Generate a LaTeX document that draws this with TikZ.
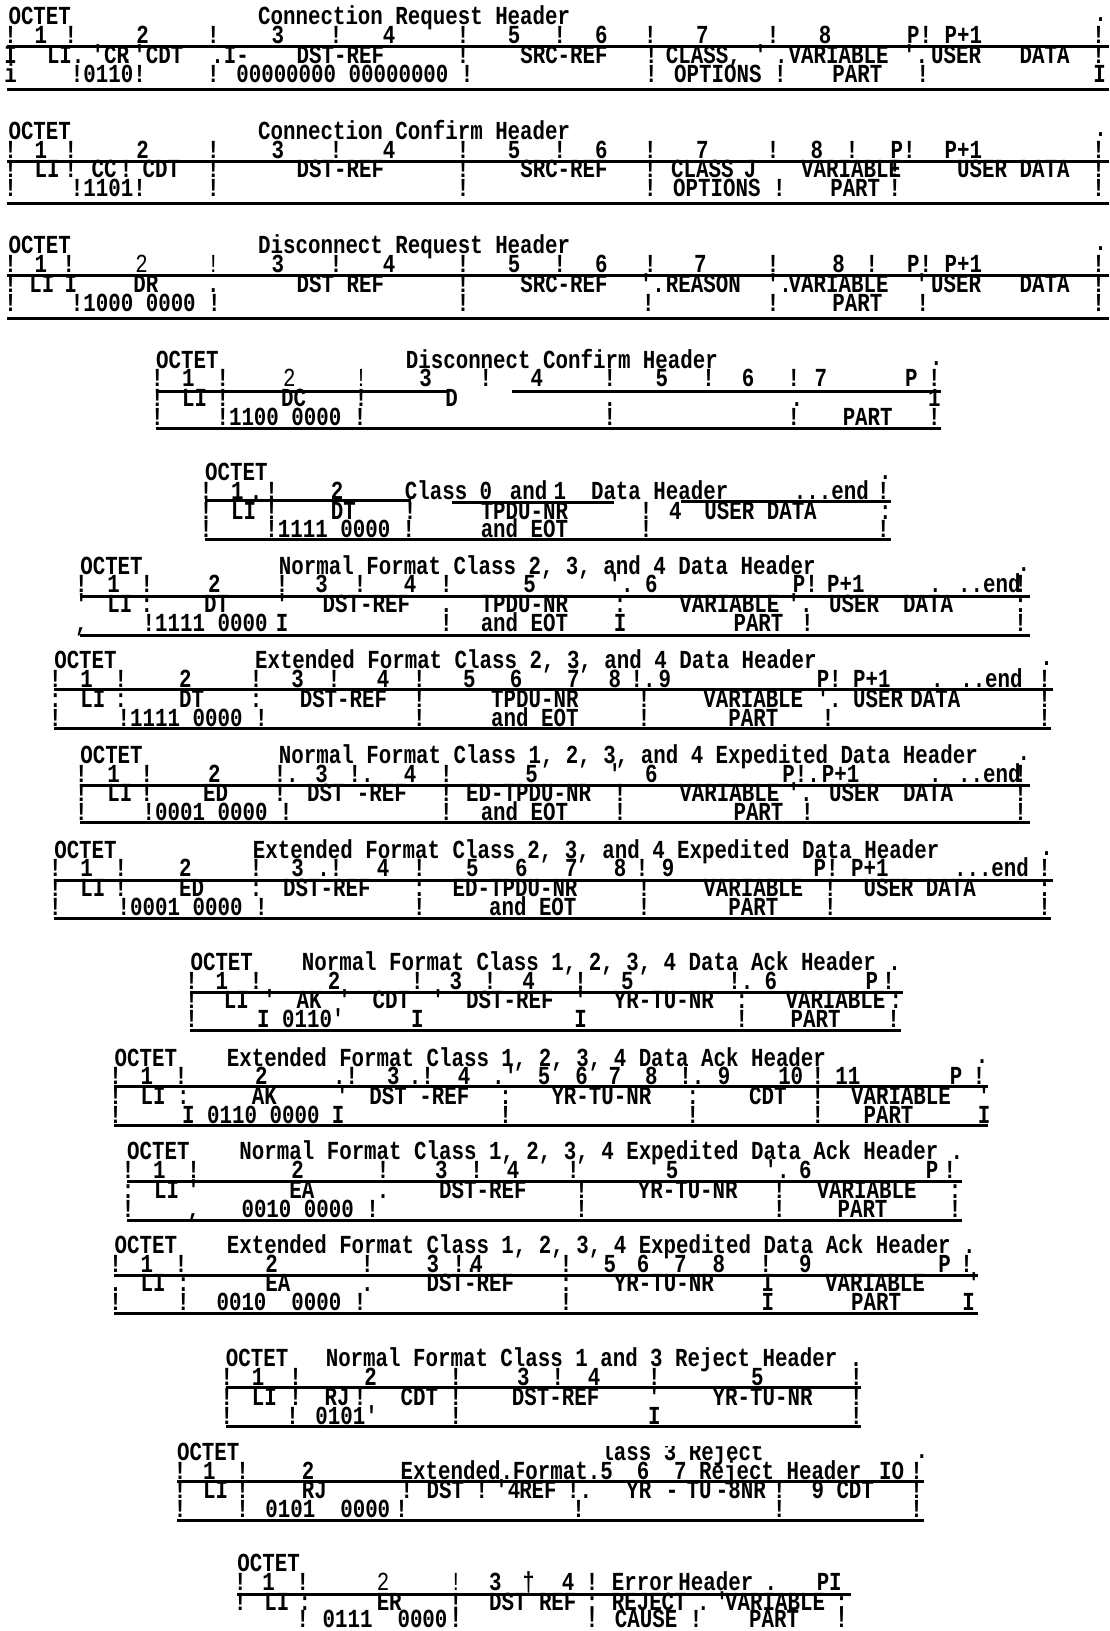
\documentclass[tikz,border=0pt]{standalone}
\usepackage{fontspec}
\newfontfamily\tw{Liberation Mono}[FakeStretch=0.80]
\newcounter{tn}
\newcommand\lt[1]{{\mdseries #1}}
\tikzset{
  txt/.style={anchor=base west, inner sep=0pt, font=\tw\bfseries\fontsize{26}{28}\selectfont},
  rule/.style={line width=3pt, line cap=butt}
}
\newcommand\Row[2]{\foreach \px/\lbl in {#2}{\stepcounter{tn}\node[txt] (n\arabic{tn}) at (\px,#1) {\lbl};}}
\newcommand\HR[3]{\draw[rule] (#1,#3) -- (#2,#3);}
\begin{document}
\begin{tikzpicture}[x=1.0403pt,y=-1.0403pt]
\useasboundingbox[fill=white] (0,0) rectangle (1067,1568);
% ---------- Block 1
\def\T{17}
\Row{\T+7}{8/OCTET, 248/{Connection Request Header}}
\Row{\T+4}{1052/.}
\Row{\T+25}{4/!, 33/1, 62/!, 131/2, 199/!, 261/3, 317/!, 368/4, 439/!, 488/5, 532/!, 572/6, 619/!, 669/7, 737/!, 787/8, 872/P!, 908/P+1, 1050/!}
\Row{\T+44}{4/I, 45/LI., 88/'CR, 116/.'CDT, 203/.I-, 285/DST-REF, 439/!, 500/SRC-REF, 620/!, 640/{CLASS,}, 725/', 745/., 758/VARIABLE, 868/'., 895/USER, 980/DATA, 1050/!}
\Row{\T+62}{4/i, 68/!0110!, 199/{! 00000000 00000000 !}, 620/{! OPTIONS !}, 800/PART, 881/!, 1051/I}
\HR{7}{1066}{\T+28}\HR{7}{1066}{\T+69}
% ---------- Block 2
\def\T{127}
\Row{\T+7}{8/OCTET, 248/{Connection Confirm Header}}
\Row{\T+4}{1052/.}
\Row{\T+25}{4/!, 33/1, 62/!, 131/2, 199/!, 261/3, 317/!, 368/4, 439/!, 488/5, 532/!, 572/6, 619/!, 669/7, 737/!, 779/8, 813/!, 856/P!, 908/P+1, 1050/!}
\Row{\T+44}{4/!, 33/LI, 62/!, 88/CC, 115/!, 137/CDT, 199/!, 285/DST-REF, 439/!, 500/SRC-REF, 619/!, 645/CLASS, 715/J, 770/VARIABLE, 854/!, 920/{USER DATA}, 1050/!}
\Row{\T+62}{4/!, 68/!1101!, 199/!, 439/!, 619/{! OPTIONS !}, 798/PART, 854/!, 1050/!}
\HR{7}{1066}{\T+28}\HR{7}{1066}{\T+69}
% ---------- Block 3
\def\T{237}
\Row{\T+7}{8/OCTET, 248/{Disconnect Request Header}}
\Row{\T+4}{1052/.}
\Row{\T+25}{4/!, 33/1, 60/!, 130/\lt{2}, 199/\lt{!}, 261/3, 317/!, 368/4, 439/!, 488/5, 532/!, 572/6, 619/!, 667/7, 737/!, 800/8, 832/!, 872/P!, 908/P+1, 1050/!}
\Row{\T+44}{4/!, 28/LI, 62/I, 128/DR, 199/., 285/{DST REF}, 439/!, 500/SRC-REF, 615/'., 640/REASON, 737/'., 758/VARIABLE, 880/'., 895/USER, 980/DATA, 1050/!}
\Row{\T+62}{4/!, 68/{!1000 0000 !}, 439/!, 617/!, 737/!, 800/PART, 881/!, 1050/!}
\HR{7}{1066}{\T+28}\HR{7}{1066}{\T+69}
% ---------- Block 4
\def\T{347}
\Row{\T+7}{150/OCTET, 390/{Disconnect Confirm Header}}
\Row{\T+4}{894/.}
\Row{\T+25}{145/!, 175/1, 208/!, 272/\lt{2}, 341/\lt{!}, 403/3, 461/!, 510/4, 580/!, 630/5, 675/!, 713/6, 757/!, 783/7, 870/P, 892/!}
\Row{\T+44}{145/!, 175/LI, 208/!, 270/DC, 341/!, 428/D, 580/., 760/., 892/1}
\Row{\T+62}{145/!, 208/{!1100 0000 !}, 580/!, 757/!, 810/PART, 892/!}
\HR{150}{430}{\T+29}\HR{492}{905}{\T+29}\HR{150}{905}{\T+65}
% ---------- Block 5
\def\T{455}
\Row{\T+7}{197/OCTET}
\Row{\T+6}{845/.}
\Row{\T+25}{192/!, 222/1, 240/., 255/!, 318/2, 389/Class, 461/0, 490/and, 532/1, 568/{Data Header}, 763/{...end}, 843/!}
\Row{\T+44}{192/!, 222/LI, 255/!, 318/DT, 388/!, 462/TPDU-NR, 615/{! 4}, 677/{USER DATA}, 845/:}
\Row{\T+62}{192/!, 255/{!1111 0000 !}, 462/{and EOT}, 615/!, 843/!}
\HR{197}{395}{\T+26}\HR{435}{590}{\T+28}\HR{655}{857}{\T+27}\HR{197}{857}{\T+64}
% ---------- Block 6
\def\T{545}
\Row{\T+7}{77/OCTET, 268/{Normal Format Class 2, 3, and 4 Data Header}}
\Row{\T+4}{978/.}
\Row{\T+25}{72/!, 103/1, 135/!, 200/2, 265/!, 303/3, 340/!, 388/4, 423/!, 503/5, 585/'., 620/6, 762/P!, 795/P+1, 893/{. ..end}, 975/!}
\Row{\T+44}{72/', 103/LI, 135/:, 196/DT, 265/', 310/DST-REF, 423/., 462/TPDU-NR, 590/:, 653/VARIABLE, 757/'., 797/USER, 868/DATA, 975/:}
\Row{\T+62}{72/{,}, 137/{!1111 0000}, 265/I, 423/!, 462/{and EOT}, 590/I, 705/PART, 770/!, 975/!}
\HR{77}{990}{\T+28}\HR{77}{990}{\T+66}
% ---------- Block 7
\def\T{636}
\Row{\T+7}{52/OCTET, 245/{Extended Format Class 2, 3, and 4 Data Header}}
\Row{\T+4}{1000/.}
\Row{\T+25}{47/!, 77/1, 110/!, 172/2, 240/!, 280/3, 315/!, 362/4, 397/!, 445/5, 490/6, 545/7, 585/8, 606/!., 633/9, 785/P!, 820/P+1, 895/{. ..end}, 998/!}
\Row{\T+44}{47/:, 77/LI, 110/:, 172/DT, 240/:, 288/DST-REF, 397/!, 472/TPDU-NR, 613/!, 676/VARIABLE, 785/'., 820/USER, 875/DATA, 998/!}
\Row{\T+62}{47/!, 113/{!1111 0000 !}, 397/!, 472/{and EOT}, 613/!, 700/PART, 790/!, 998/!}
\HR{52}{1012}{\T+27}\HR{52}{1010}{\T+64}
% ---------- Block 8
\def\T{727}
\Row{\T+7}{77/OCTET, 268/{Normal Format Class 1, 2, 3, and 4 Expedited Data Header}}
\Row{\T+4}{978/.}
\Row{\T+25}{72/!, 103/1, 135/!, 200/2, 263/!., 303/3, 335/!., 388/4, 423/!, 505/5, 585/', 620/6, 752/P!., 790/P+1, 893/{. ..end}, 975/!}
\Row{\T+44}{72/!, 103/LI, 135/!, 195/ED, 263/!, 295/{DST -REF}, 423/!, 448/ED-TPDU-NR, 590/!, 653/VARIABLE, 757/'., 797/USER, 868/DATA, 975/!}
\Row{\T+62}{72/!, 137/{!0001 0000 !}, 423/!, 462/{and EOT}, 590/!, 705/PART, 770/!, 975/!}
\HR{77}{990}{\T+28}\HR{77}{990}{\T+64}
% ---------- Block 9
\def\T{818}
\Row{\T+7}{52/OCTET, 243/{Extended Format Class 2, 3, and 4 Expedited Data Header}}
\Row{\T+4}{1000/.}
\Row{\T+25}{47/!, 77/1, 110/!, 172/2, 240/!, 280/3, 305/.!, 362/4, 397/!, 448/5, 495/6, 543/7, 590/8, 611/!, 636/9, 782/P!, 818/P+1, 917/{...end}, 998/!}
\Row{\T+44}{47/!, 77/LI, 110/!, 172/ED, 240/:, 272/DST-REF, 397/:, 435/ED-TPDU-NR, 613/!, 676/VARIABLE, 792/!, 830/{USER DATA}, 998/:}
\Row{\T+62}{47/!, 113/{!0001 0000 !}, 397/!, 470/{and EOT}, 613/!, 700/PART, 792/!, 998/!}
\HR{52}{1012}{\T+28}\HR{52}{1010}{\T+65}
% ---------- Block 10
\def\T{926}
\Row{\T+7}{183/OCTET, 290/{Normal Format Class 1, 2, 3, 4 Data Ack Header .}}
\Row{\T+25}{178/!, 207/1, 240/!, 315/2, 395/!, 432/3, 465/!, 502/4, 552/!, 597/5, 700/!., 735/6, 832/P, 848/!}
\Row{\T+44}{178/!, 215/LI, 253/', 285/AK, 325/', 358/CDT, 415/', 448/DST-REF, 552/', 590/YR-TU-NR, 707/:, 755/VARIABLE, 855/:}
\Row{\T+62}{178/!, 247/{I 0110'}, 395/I, 552/I, 707/!, 760/PART, 853/!}
\HR{183}{868}{\T+28}\HR{183}{866}{\T+65}
% ---------- Block 11
\def\T{1018}
\Row{\T+7}{110/OCTET, 218/{Extended Format Class 1, 2, 3, 4 Data Ack Header}}
\Row{\T+4}{938/.}
\Row{\T+25}{105/!, 135/1, 168/!, 245/2, 320/.!, 372/3, 393/.!, 440/4, 473/.', 517/5, 553/6, 585/7, 620/8, 653/!., 690/9, 748/10, 780/!, 803/11, 913/P, 935/!}
\Row{\T+44}{105/!, 135/LI, 170/:, 242/AK, 323/', 355/{DST -REF}, 480/:, 530/YR-TU-NR, 660/:, 720/CDT, 780/!, 818/VARIABLE, 940/'}
\Row{\T+62}{105/!, 175/{I 0110 0000 I}, 480/!, 660/!, 780/!, 830/PART, 940/I}
\HR{110}{950}{\T+27}\HR{110}{950}{\T+64}
% ---------- Block 12
\def\T{1108}
\Row{\T+7}{122/OCTET, 230/{Normal Format Class 1, 2, 3, 4 Expedited Data Ack Header .}}
\Row{\T+25}{117/!, 147/1, 180/!, 280/2, 362/!, 418/3, 452/!, 487/4, 545/!, 640/5, 735/'., 768/6, 890/P, 907/!}
\Row{\T+44}{117/:, 148/LI, 180/', 278/EA, 362/., 422/DST-REF, 553/!, 613/YR-TU-NR, 743/!, 785/VARIABLE, 912/:}
\Row{\T+62}{117/!, 180/{,}, 232/{0010 0000 !}, 553/!, 743/!, 805/PART, 912/!}
\HR{122}{925}{\T+28}\HR{122}{925}{\T+65}
% ---------- Block 13
\def\T{1198}
\Row{\T+7}{110/OCTET, 218/{Extended Format Class 1, 2, 3, 4 Expedited Data Ack Header .}}
\Row{\T+25}{105/!, 135/1, 168/!, 255/2, 347/!, 410/3, 435/!., 452/4, 538/!, 580/5, 612/6, 648/7, 685/8, 730/!, 768/9, 902/P, 923/!}
\Row{\T+44}{105/., 135/LI, 170/:, 255/EA, 347/., 410/DST-REF, 538/:, 590/YR-TU-NR, 732/I, 793/VARIABLE, 930/'}
\Row{\T+62}{105/!, 170/!, 208/{0010~~0000 !}, 538/!, 732/I, 818/PART, 925/I}
\HR{110}{940}{\T+28}\HR{110}{940}{\T+65}
% ---------- Block 14
\def\T{1307}
\Row{\T+7}{217/OCTET, 313/{Normal Format Class 1 and 3 Reject Header .}}
\Row{\T+25}{212/!, 242/1, 278/!, 350/2, 432/!, 497/3, 530/!, 565/4, 623/!, 722/5, 817/!}
\Row{\T+44}{212/!, 242/LI, 278/!, 312/RJ, 340/!, 385/CDT, 432/!, 492/DST-REF, 623/', 685/YR-TU-NR, 817/!}
\Row{\T+62}{212/!, 275/{! 0101'}, 432/!, 623/I, 817/!}
\HR{217}{828}{\T+27}\HR{217}{828}{\T+64}
% ---------- Block 15
\def\T{1397}
\Row{\T+7}{170/OCTET}
\Row{\T+5}{880/.}
\begin{scope}
\clip (560,1391) rectangle (800,1412);
\Row{\T+7}{578/{lass 3 Reject}}
\end{scope}
\Row{\T+25}{167/!, 195/1, 227/!, 290/2, 385/{Extended.Format.}, 577/5, 612/6, 648/{7 Reject Header}, 845/IO, 875/!}
\Row{\T+44}{167/!, 195/LI, 227/!, 290/RJ, 385/!, 410/DST, 457/!, 476/'4, 499/REF, 545/!., 602/YR, 640/-, 660/TU, 688/-8NR, 743/!, 780/{9 CDT}, 875/!}
\Row{\T+62}{167/!, 227/{! 0101~~0000}, 380/!, 550/!, 743/!, 875/!}
\HR{170}{888}{\T+27}\HR{170}{888}{\T+65}
% ---------- Block 16
\def\T{1506}
\Row{\T+5}{228/OCTET}
\Row{\T+23}{225/!, 252/1, 285/!, 362/\lt{2}, 432/\lt{!}, 470/3, 502/†, 540/4, 563/!, 588/Error, 652/Header, 735/., 785/PI}
\Row{\T+42}{225/!, 254/LI, 287/:, 362/ER, 432/!, 470/{DST REF}, 563/:, 588/REJECT, 670/., 688/', 697/VARIABLE, 803/:}
\Row{\T+59}{285/!, 310/{0111~~0000}, 432/!, 563/{! CAUSE !}, 720/PART, 803/!}
\HR{228}{818}{\T+27}
\end{tikzpicture}
\end{document}
